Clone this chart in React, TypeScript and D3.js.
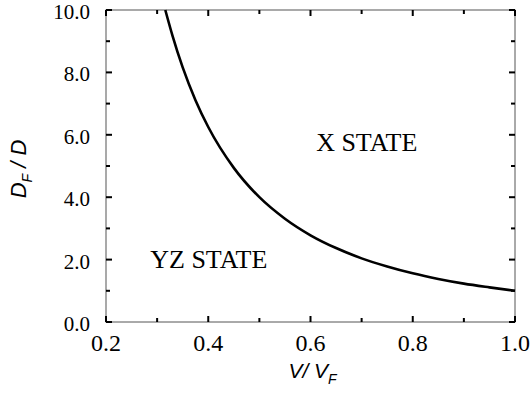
import { useEffect, useRef } from "react";
import * as d3 from "d3";

// curve: V/VF vs DF/D
const ratioV = [0.316, 0.33, 0.35, 0.375, 0.4, 0.45, 0.5, 0.55, 0.6, 0.65, 0.7, 0.75, 0.8, 0.85, 0.9, 0.95, 1.0];
const ratioD = [10.0, 9.18, 8.16, 7.11, 6.25, 4.94, 4.0, 3.31, 2.78, 2.37, 2.04, 1.78, 1.56, 1.38, 1.23, 1.11, 1.0];

const xMajor = [0.2, 0.4, 0.6, 0.8, 1.0];
const xMinor = [0.3, 0.5, 0.7, 0.9];
const yMajor = [0, 2, 4, 6, 8, 10];
const yMinor = [1, 3, 5, 7, 9];

const regionLabels = [
  { text: "X STATE", v: 0.71, d: 5.48 },
  { text: "YZ STATE", v: 0.401, d: 1.73 },
];

export default function App() {
  const ref = useRef<SVGSVGElement>(null);

  useEffect(() => {
    if (!ref.current) return;
    const svg = d3.select(ref.current);
    svg.selectAll("*").remove();

    const width = 530;
    const height = 397;
    const margin = { top: 10, right: 15, bottom: 75, left: 106 };

    const x = d3.scaleLinear().domain([0.2, 1.0]).range([margin.left, width - margin.right]);
    const y = d3.scaleLinear().domain([0, 10]).range([height - margin.bottom, margin.top]);

    const serif = "Liberation Serif, DejaVu Serif, serif";
    const sans = "Liberation Sans, Arial, sans-serif";

    // frame
    svg
      .append("rect")
      .attr("x", x(0.2))
      .attr("y", y(10))
      .attr("width", x(1.0) - x(0.2))
      .attr("height", y(0) - y(10))
      .attr("fill", "none")
      .attr("stroke", "#555")
      .attr("stroke-width", 1);

    // ticks, inward on all four sides
    const ticks = svg.append("g").attr("stroke", "#000").attr("stroke-width", 2);
    const xt = [...xMajor.map((v) => ({ v, len: 6 })), ...xMinor.map((v) => ({ v, len: 4 }))];
    xt.forEach(({ v, len }) => {
      ticks.append("line").attr("x1", x(v)).attr("x2", x(v)).attr("y1", y(0)).attr("y2", y(0) - len);
      ticks.append("line").attr("x1", x(v)).attr("x2", x(v)).attr("y1", y(10)).attr("y2", y(10) + len);
    });
    const yt = [...yMajor.map((v) => ({ v, len: 6 })), ...yMinor.map((v) => ({ v, len: 4 }))];
    yt.forEach(({ v, len }) => {
      ticks.append("line").attr("y1", y(v)).attr("y2", y(v)).attr("x1", x(0.2)).attr("x2", x(0.2) + len);
      ticks.append("line").attr("y1", y(v)).attr("y2", y(v)).attr("x1", x(1.0)).attr("x2", x(1.0) - len);
    });

    // tick labels
    svg
      .append("g")
      .selectAll("text")
      .data(xMajor)
      .join("text")
      .attr("x", (d) => x(d))
      .attr("y", y(0) + 29)
      .attr("text-anchor", "middle")
      .style("font-family", serif)
      .style("font-size", "24px")
      .text((d) => d3.format(".1f")(d));

    svg
      .append("g")
      .selectAll("text")
      .data(yMajor)
      .join("text")
      .attr("x", x(0.2) - 16)
      .attr("y", (d) => y(d) + 9)
      .attr("text-anchor", "end")
      .style("font-family", serif)
      .style("font-size", "21px")
      .text((d) => d3.format(".1f")(d));

    // axis titles
    const xt2 = svg
      .append("text")
      .attr("x", (x(0.2) + x(1.0)) / 2 + 2)
      .attr("y", 378)
      .attr("text-anchor", "middle")
      .style("font-family", sans)
      .style("font-style", "italic")
      .style("font-size", "21px");
    xt2.append("tspan").text("V/ V");
    xt2.append("tspan").style("font-size", "14px").attr("dy", 6).text("F");

    const yt2 = svg
      .append("text")
      .attr("transform", `translate(26,169) rotate(-90)`)
      .attr("text-anchor", "middle")
      .style("font-family", sans)
      .style("font-style", "italic")
      .style("font-size", "22px");
    yt2.append("tspan").text("D");
    yt2.append("tspan").style("font-size", "14px").attr("dy", 6).text("F");
    yt2.append("tspan").attr("dy", -6).text(" / D");

    // region labels
    svg
      .append("g")
      .selectAll("text")
      .data(regionLabels)
      .join("text")
      .attr("x", (d) => x(d.v))
      .attr("y", (d) => y(d.d))
      .attr("text-anchor", "middle")
      .style("font-family", serif)
      .style("font-size", "26px")
      .text((d) => d.text);

    // curve
    const pts = ratioV.map((v, i) => [v, ratioD[i]] as [number, number]);
    const line = d3
      .line<[number, number]>()
      .x((d) => x(d[0]))
      .y((d) => y(d[1]))
      .curve(d3.curveMonotoneX);
    svg
      .append("path")
      .datum(pts)
      .attr("d", line)
      .attr("fill", "none")
      .attr("stroke", "#000")
      .attr("stroke-width", 2.6);
  }, []);

  return (
    <svg
      ref={ref}
      width={530}
      height={397}
      style={{ position: "absolute", left: 0, top: 0, background: "#fff" }}
    />
  );
}
